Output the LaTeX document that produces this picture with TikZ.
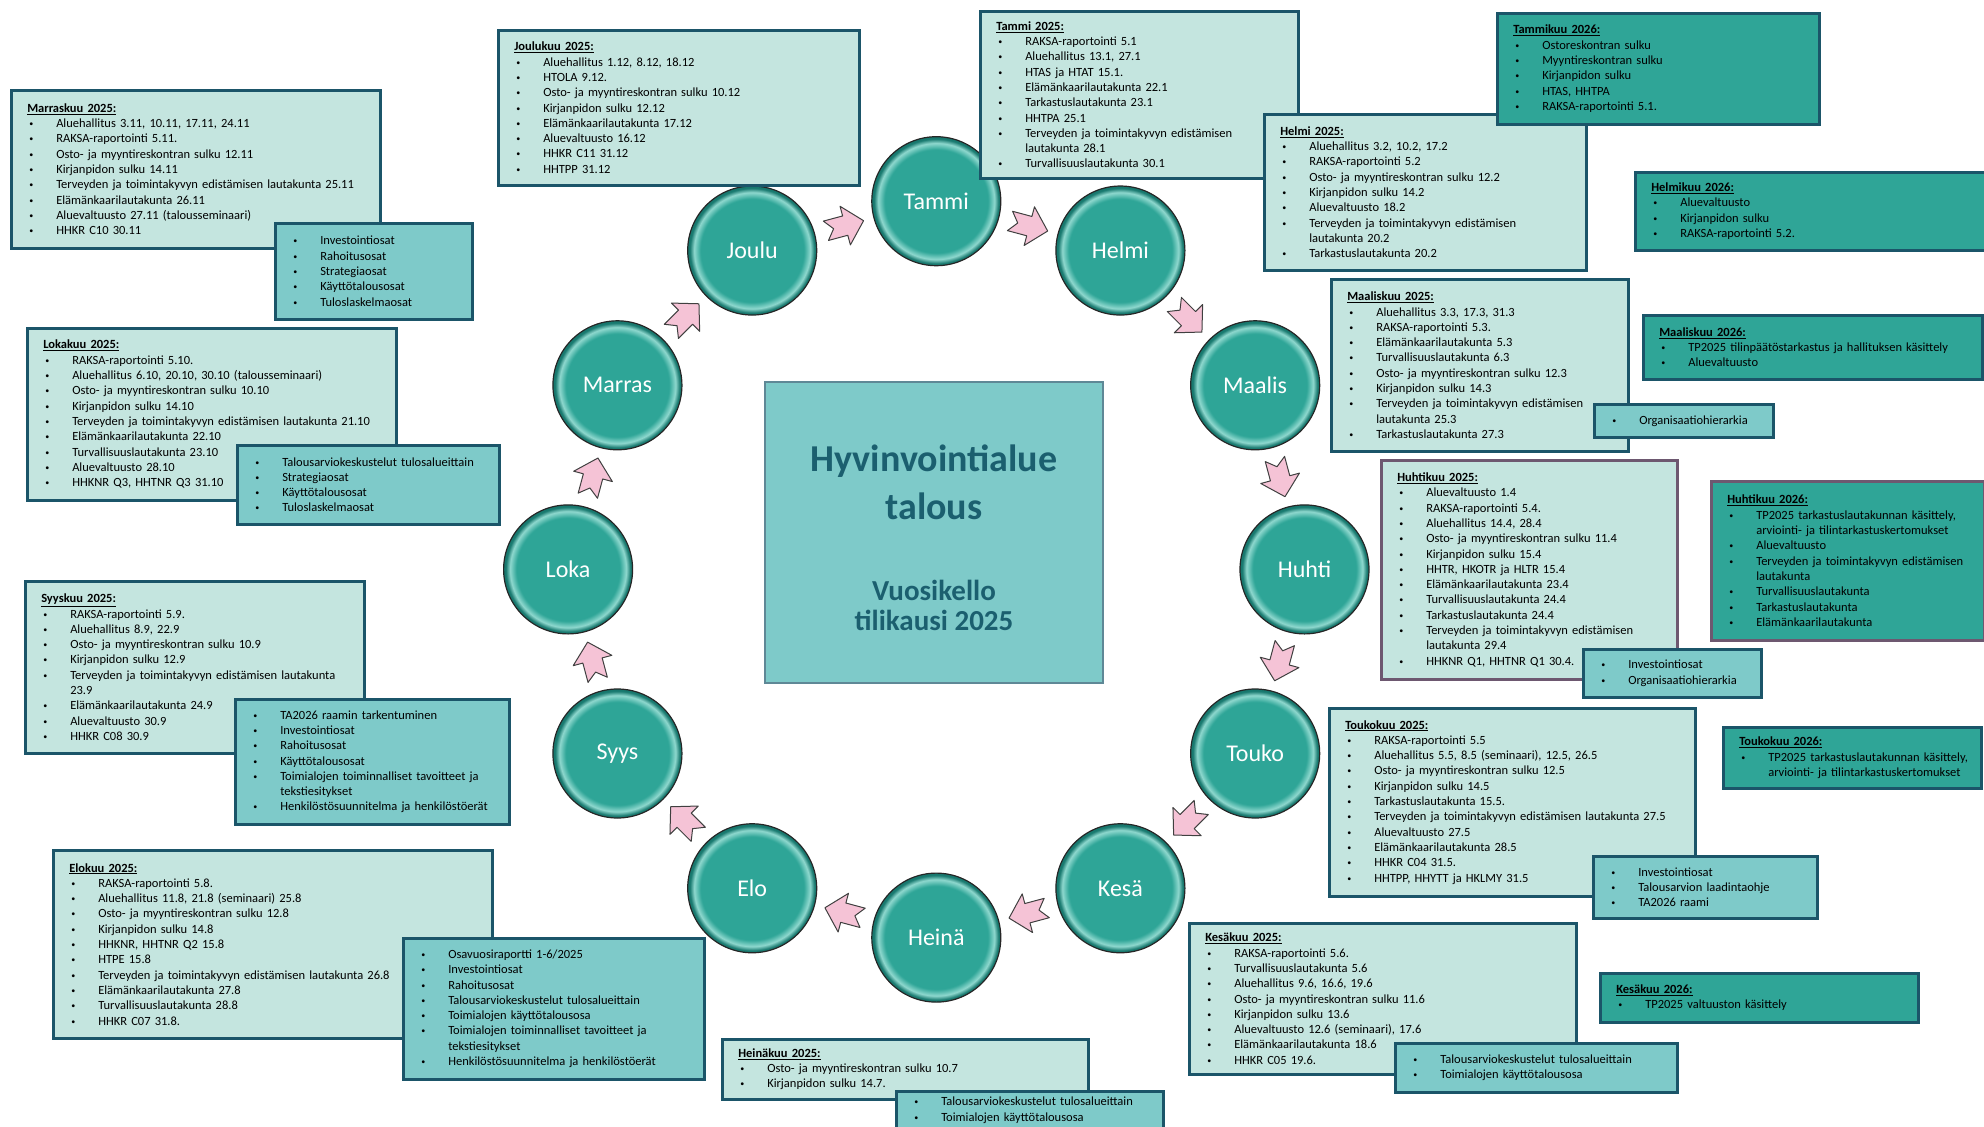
\documentclass[tikz,border=0pt]{standalone}
\usepackage{fontspec}
\setmainfont{Carlito}
\usetikzlibrary{calc}

\definecolor{vaaleaT}{HTML}{C4E5DF}
\definecolor{keskiT}{HTML}{7ECAC9}
\definecolor{tummaT}{HTML}{2FA597}
\definecolor{reuna}{HTML}{1B5569}
\definecolor{violetti}{HTML}{6D5870}
\definecolor{otsikkoV}{HTML}{1B5F6F}
\definecolor{pinkki}{HTML}{F5C3D6}
\definecolor{palloK}{HTML}{2EA597}
\definecolor{palloV}{HTML}{8ED8CE}
\definecolor{palloT}{HTML}{17786E}

\pgfdeclareradialshading{pallovarjo}{\pgfpoint{0bp}{0bp}}{color(0bp)=(palloK); color(20bp)=(palloK);
  color(22.5bp)=(palloV); color(24.2bp)=(palloT); color(25bp)=(palloT); color(50bp)=(palloT)}

\newcommand{\kohta}[1]{\leavevmode\hbox{\hspace*{2pt}\makebox[27pt][l]{\raisebox{1pt}{\fontsize{8}{8}\selectfont\textbullet}}#1}}
\newcommand{\jatko}[1]{\leavevmode\hbox{\hspace*{29pt}#1}}
\newcommand{\otsikko}[1]{\leavevmode\hbox{\textbf{\underline{#1}}}}

\tikzset{
  laatikko/.style={draw=reuna, line width=2.5pt, anchor=north west, align=left,
    inner xsep=16pt, inner ysep=0pt, font=\fontsize{12.5}{15.3}\selectfont},
  vaalea/.style={laatikko, fill=vaaleaT},
  keski/.style={laatikko, fill=keskiT},
  tumma/.style={laatikko, fill=tummaT},
  pallo/.style={circle, minimum size=129pt, inner sep=0pt, draw=black!85, line width=1.2pt,
    shading=pallovarjo, text=white, font=\fontsize{24}{28}\selectfont},
  nuoli/.pic={\draw[fill=pinkki, draw=black!75, line width=1pt, line join=round]
    (-19,-10) -- (1,-10) -- (1,-20) -- (20,0) -- (1,20) -- (1,10) -- (-19,10) -- (-11,0) -- cycle;}
}

\begin{document}
\begin{tikzpicture}[x=1pt,y=1pt]
  \useasboundingbox (0,0) rectangle (1984,-1127);

  % Keskusta
  \node[draw=reuna!70, fill=keskiT, line width=1.5pt, minimum width=338pt, minimum height=301pt] (keskus) at (934,-532.5) {};
  \node[text=otsikkoV, font=\fontsize{38}{48}\selectfont\bfseries, align=center] (otsikko) at (934,-482) {Hyvinvointialue\\talous};
  \node[text=otsikkoV, font=\fontsize{29}{30}\selectfont\bfseries, align=center] (alaotsikko) at (934,-605) {Vuosikello\\tilikausi 2025};

  % Kuukausipallot
  \coordinate (kp) at (936.3,-569.4);
  \foreach \nimi/\kulma [count=\i] in {Tammi/90,Helmi/60,Maalis/30,Huhti/0,Touko/-30,Kesä/-60,Heinä/-90,Elo/-120,Syys/-150,Loka/180,Marras/150,Joulu/120}
    \node[pallo] (k\i) at ($(kp)+(\kulma:368.2)$) {\nimi};

  % Nuolet
  \foreach \i/\j/\kulma in {1/2/90,2/3/60,3/4/30,4/5/0,5/6/-30,6/7/-60,7/8/-90,8/9/-120,9/10/-150,10/11/180,11/12/150,12/1/120}
    \pic[rotate=\kulma-105] (n\i) at ($(k\i)!0.5!(k\j)$) {nuoli};

  % Vasen puoli
  \node[vaalea, text width=337pt, minimum height=158pt] (marras) at (10,-89) {\otsikko{Marraskuu 2025:}\\
    \kohta{Aluehallitus 3.11, 10.11, 17.11, 24.11}\\
    \kohta{RAKSA-raportointi 5.11.}\\
    \kohta{Osto- ja myyntireskontran sulku 12.11}\\
    \kohta{Kirjanpidon sulku 14.11}\\
    \kohta{Terveyden ja toimintakyvyn edistämisen lautakunta 25.11}\\
    \kohta{Elämänkaarilautakunta 26.11}\\
    \kohta{Aluevaltuusto 27.11 (talousseminaari)}\\
    \kohta{HHKR C10 30.11}};
  \node[keski, text width=165pt, minimum height=96pt] (marrasP) at (274,-222) {\kohta{Investointiosat}\\
    \kohta{Rahoitusosat}\\
    \kohta{Strategiaosat}\\
    \kohta{Käyttötalousosat}\\
    \kohta{Tuloslaskelmaosat}};

  \node[vaalea, text width=337pt, minimum height=172pt] (loka) at (26,-327) {\otsikko{Lokakuu 2025:}\\
    \kohta{RAKSA-raportointi 5.10.}\\
    \kohta{Aluehallitus 6.10, 20.10, 30.10 (talousseminaari)}\\
    \kohta{Osto- ja myyntireskontran sulku 10.10}\\
    \kohta{Kirjanpidon sulku 14.10}\\
    \kohta{Terveyden ja toimintakyvyn edistämisen lautakunta 21.10}\\
    \kohta{Elämänkaarilautakunta 22.10}\\
    \kohta{Turvallisuuslautakunta 23.10}\\
    \kohta{Aluevaltuusto 28.10}\\
    \kohta{HHKNR Q3, HHTNR Q3 31.10}};
  \node[keski, text width=230pt, minimum height=79pt] (lokaP) at (236,-444) {\kohta{Talousarviokeskustelut tulosalueittain}\\
    \kohta{Strategiaosat}\\
    \kohta{Käyttötalousosat}\\
    \kohta{Tuloslaskelmaosat}};

  \node[vaalea, text width=307pt, minimum height=172pt] (syys) at (24,-580) {\otsikko{Syyskuu 2025:}\\
    \kohta{RAKSA-raportointi 5.9.}\\
    \kohta{Aluehallitus 8.9, 22.9}\\
    \kohta{Osto- ja myyntireskontran sulku 10.9}\\
    \kohta{Kirjanpidon sulku 12.9}\\
    \kohta{Terveyden ja toimintakyvyn edistämisen lautakunta}\\
    \jatko{23.9}\\
    \kohta{Elämänkaarilautakunta 24.9}\\
    \kohta{Aluevaltuusto 30.9}\\
    \kohta{HHKR C08 30.9}};
  \node[keski, text width=242pt, minimum height=125pt] (syysP) at (234,-698) {\kohta{TA2026 raamin tarkentuminen}\\
    \kohta{Investointiosat}\\
    \kohta{Rahoitusosat}\\
    \kohta{Käyttötalousosat}\\
    \kohta{Toimialojen toiminnalliset tavoitteet ja}\\
    \jatko{tekstiesitykset}\\
    \kohta{Henkilöstösuunnitelma ja henkilöstöerät}};

  \node[vaalea, text width=407pt, minimum height=188pt] (elo) at (52,-849) {\otsikko{Elokuu 2025:}\\
    \kohta{RAKSA-raportointi 5.8.}\\
    \kohta{Aluehallitus 11.8, 21.8 (seminaari) 25.8}\\
    \kohta{Osto- ja myyntireskontran sulku 12.8}\\
    \kohta{Kirjanpidon sulku 14.8}\\
    \kohta{HHKNR, HHTNR Q2 15.8}\\
    \kohta{HTPE 15.8}\\
    \kohta{Terveyden ja toimintakyvyn edistämisen lautakunta 26.8}\\
    \kohta{Elämänkaarilautakunta 27.8}\\
    \kohta{Turvallisuuslautakunta 28.8}\\
    \kohta{HHKR C07 31.8.}};
  \node[keski, text width=269pt, minimum height=141pt] (eloP) at (402,-937) {\kohta{Osavuosiraportti 1-6/2025}\\
    \kohta{Investointiosat}\\
    \kohta{Rahoitusosat}\\
    \kohta{Talousarviokeskustelut tulosalueittain}\\
    \kohta{Toimialojen käyttötalousosa}\\
    \kohta{Toimialojen toiminnalliset tavoitteet ja}\\
    \jatko{tekstiesitykset}\\
    \kohta{Henkilöstösuunnitelma ja henkilöstöerät}};

  % Yläreuna
  \node[vaalea, text width=329pt, minimum height=155pt] (joulu) at (497,-29) {\otsikko{Joulukuu 2025:}\\
    \kohta{Aluehallitus 1.12, 8.12, 18.12}\\
    \kohta{HTOLA 9.12.}\\
    \kohta{Osto- ja myyntireskontran sulku 10.12}\\
    \kohta{Kirjanpidon sulku 12.12}\\
    \kohta{Elämänkaarilautakunta 17.12}\\
    \kohta{Aluevaltuusto 16.12}\\
    \kohta{HHKR C11 31.12}\\
    \kohta{HHTPP 31.12}};

  \node[vaalea, text width=286pt, minimum height=167pt] (tammi) at (979,-10) {\otsikko{Tammi 2025:}\\
    \kohta{RAKSA-raportointi 5.1}\\
    \kohta{Aluehallitus 13.1, 27.1}\\
    \kohta{HTAS ja HTAT 15.1.}\\
    \kohta{Elämänkaarilautakunta 22.1}\\
    \kohta{Tarkastuslautakunta 23.1}\\
    \kohta{HHTPA 25.1}\\
    \kohta{Terveyden ja toimintakyvyn edistämisen}\\
    \jatko{lautakunta 28.1}\\
    \kohta{Turvallisuuslautakunta 30.1}};

  % Oikea puoli
  \node[vaalea, text width=290pt, minimum height=156pt] (helmi) at (1263,-113) {\otsikko{Helmi 2025:}\\
    \kohta{Aluehallitus 3.2, 10.2, 17.2}\\
    \kohta{RAKSA-raportointi 5.2}\\
    \kohta{Osto- ja myyntireskontran sulku 12.2}\\
    \kohta{Kirjanpidon sulku 14.2}\\
    \kohta{Aluevaltuusto 18.2}\\
    \kohta{Terveyden ja toimintakyvyn edistämisen}\\
    \jatko{lautakunta 20.2}\\
    \kohta{Tarkastuslautakunta 20.2}};
  \node[tumma, text width=290pt, minimum height=111pt] (tammi26) at (1496,-12) {\otsikko{Tammikuu 2026:}\\
    \kohta{Ostoreskontran sulku}\\
    \kohta{Myyntireskontran sulku}\\
    \kohta{Kirjanpidon sulku}\\
    \kohta{HTAS, HHTPA}\\
    \kohta{RAKSA-raportointi 5.1.}};
  \node[tumma, text width=320pt, minimum height=78pt] (helmi26) at (1634,-171) {\otsikko{Helmikuu 2026:}\\
    \kohta{Aluevaltuusto}\\
    \kohta{Kirjanpidon sulku}\\
    \kohta{RAKSA-raportointi 5.2.}};

  \node[vaalea, text width=265pt, minimum height=172pt] (maalis) at (1330,-278) {\otsikko{Maaliskuu 2025:}\\
    \kohta{Aluehallitus 3.3, 17.3, 31.3}\\
    \kohta{RAKSA-raportointi 5.3.}\\
    \kohta{Elämänkaarilautakunta 5.3}\\
    \kohta{Turvallisuuslautakunta 6.3}\\
    \kohta{Osto- ja myyntireskontran sulku 12.3}\\
    \kohta{Kirjanpidon sulku 14.3}\\
    \kohta{Terveyden ja toimintakyvyn edistämisen}\\
    \jatko{lautakunta 25.3}\\
    \kohta{Tarkastuslautakunta 27.3}};
  \node[tumma, text width=307pt, minimum height=64pt] (maalis26) at (1642,-314) {\otsikko{Maaliskuu 2026:}\\
    \kohta{TP2025 tilinpäätöstarkastus ja hallituksen käsittely}\\
    \kohta{Aluevaltuusto}};
  \node[keski, text width=147pt, minimum height=33pt] (maalisP) at (1593,-403) {\kohta{Organisaatiohierarkia}};

  \node[vaalea, draw=violetti, text width=264pt, minimum height=219pt] (huhti) at (1380,-459) {\otsikko{Huhtikuu 2025:}\\
    \kohta{Aluevaltuusto 1.4}\\
    \kohta{RAKSA-raportointi 5.4.}\\
    \kohta{Aluehallitus 14.4, 28.4}\\
    \kohta{Osto- ja myyntireskontran sulku 11.4}\\
    \kohta{Kirjanpidon sulku 15.4}\\
    \kohta{HHTR, HKOTR ja HLTR 15.4}\\
    \kohta{Elämänkaarilautakunta 23.4}\\
    \kohta{Turvallisuuslautakunta 24.4}\\
    \kohta{Tarkastuslautakunta 24.4}\\
    \kohta{Terveyden ja toimintakyvyn edistämisen}\\
    \jatko{lautakunta 29.4}\\
    \kohta{HHKNR Q1, HHTNR Q1 30.4.}};
  \node[tumma, draw=violetti, text width=241pt, minimum height=159pt] (huhti26) at (1710,-480) {\otsikko{Huhtikuu 2026:}\\
    \kohta{TP2025 tarkastuslautakunnan käsittely,}\\
    \jatko{arviointi- ja tilintarkastuskertomukset}\\
    \kohta{Aluevaltuusto}\\
    \kohta{Terveyden ja toimintakyvyn edistämisen}\\
    \jatko{lautakunta}\\
    \kohta{Turvallisuuslautakunta}\\
    \kohta{Tarkastuslautakunta}\\
    \kohta{Elämänkaarilautakunta}};
  \node[keski, text width=146pt, minimum height=48pt] (huhtiP) at (1582,-648) {\kohta{Investointiosat}\\
    \kohta{Organisaatiohierarkia}};

  \node[vaalea, text width=334pt, minimum height=188pt] (touko) at (1328,-707) {\otsikko{Toukokuu 2025:}\\
    \kohta{RAKSA-raportointi 5.5}\\
    \kohta{Aluehallitus 5.5, 8.5 (seminaari), 12.5, 26.5}\\
    \kohta{Osto- ja myyntireskontran sulku 12.5}\\
    \kohta{Kirjanpidon sulku 14.5}\\
    \kohta{Tarkastuslautakunta 15.5.}\\
    \kohta{Terveyden ja toimintakyvyn edistämisen lautakunta 27.5}\\
    \kohta{Aluevaltuusto 27.5}\\
    \kohta{Elämänkaarilautakunta 28.5}\\
    \kohta{HHKR C04 31.5.}\\
    \kohta{HHTPP, HHYTT ja HKLMY 31.5}};
  \node[tumma, text width=226pt, minimum height=61pt] (touko26) at (1722,-726) {\otsikko{Toukokuu 2026:}\\
    \kohta{TP2025 tarkastuslautakunnan käsittely,}\\
    \jatko{arviointi- ja tilintarkastuskertomukset}};
  \node[keski, text width=192pt, minimum height=62pt] (toukoP) at (1592,-855) {\kohta{Investointiosat}\\
    \kohta{Talousarvion laadintaohje}\\
    \kohta{TA2026 raami}};

  % Alareuna
  \node[vaalea, text width=355pt, minimum height=151pt] (kesa) at (1188,-922) {\otsikko{Kesäkuu 2025:}\\
    \kohta{RAKSA-raportointi 5.6.}\\
    \kohta{Turvallisuuslautakunta 5.6}\\
    \kohta{Aluehallitus 9.6, 16.6, 19.6}\\
    \kohta{Osto- ja myyntireskontran sulku 11.6}\\
    \kohta{Kirjanpidon sulku 13.6}\\
    \kohta{Aluevaltuusto 12.6 (seminaari), 17.6}\\
    \kohta{Elämänkaarilautakunta 18.6}\\
    \kohta{HHKR C05 19.6.}};
  \node[tumma, text width=286pt, minimum height=49pt] (kesa26) at (1599,-972) {\otsikko{Kesäkuu 2026:}\\
    \kohta{TP2025 valtuuston käsittely}};
  \node[keski, text width=250pt, minimum height=49pt] (kesaP) at (1394,-1042) {\kohta{Talousarviokeskustelut tulosalueittain}\\
    \kohta{Toimialojen käyttötalousosa}};

  \node[vaalea, text width=334pt, minimum height=60pt] (heina) at (721,-1038) {\otsikko{Heinäkuu 2025:}\\
    \kohta{Osto- ja myyntireskontran sulku 10.7}\\
    \kohta{Kirjanpidon sulku 14.7.}};
  \node[keski, text width=235pt, minimum height=38pt] (heinaP) at (895,-1090) {\kohta{Talousarviokeskustelut tulosalueittain}\\
    \kohta{Toimialojen käyttötalousosa}};
\end{tikzpicture}
\end{document}
